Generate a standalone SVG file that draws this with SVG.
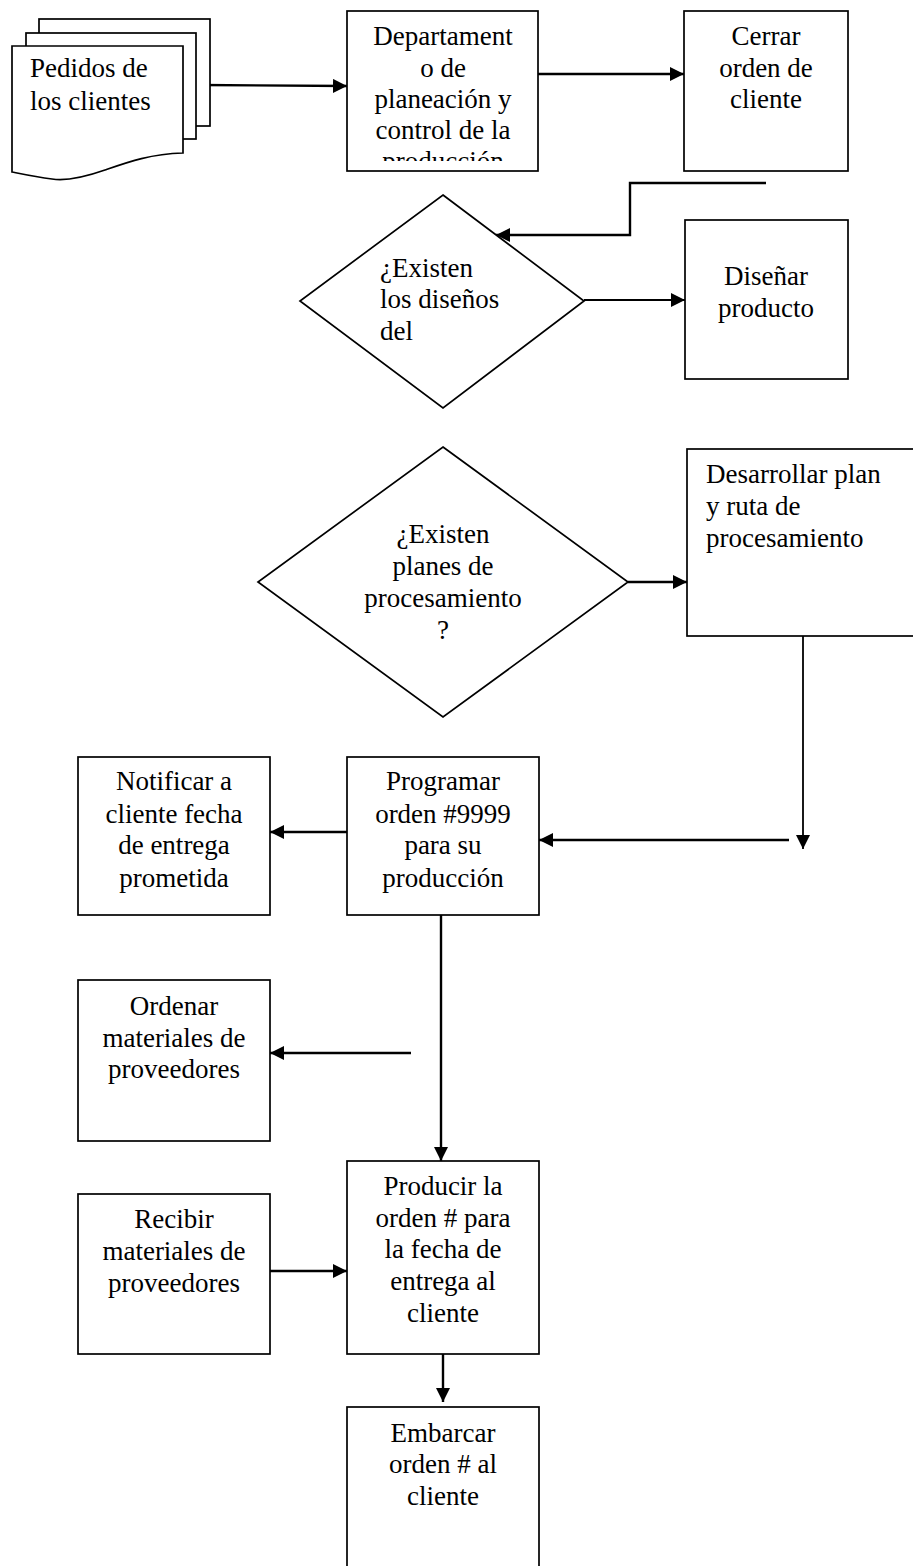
<svg xmlns="http://www.w3.org/2000/svg" width="913" height="1566" viewBox="0 0 913 1566">
  <style>
    .shape { fill: #fff; stroke: #000; stroke-width: 1.7; }
    .conn { fill: none; stroke: #000; stroke-width: 2.4; }
    .thin { stroke-width: 1.8; }
    .lbl { font-family: "Liberation Serif", "Times New Roman", serif; font-size: 27px; fill: #000; }
    .mid { text-anchor: middle; }
  </style>
  <defs>
    <marker id="arrow" viewBox="0 0 10 10" refX="10" refY="5" markerWidth="14" markerHeight="14" markerUnits="userSpaceOnUse" orient="auto">
      <path d="M0,0 L10,5 L0,10 z" fill="#000"/>
    </marker>
    <clipPath id="deptClip">
      <rect x="348" y="12" width="189" height="149"/>
    </clipPath>
  </defs>

  <rect width="913" height="1566" fill="#fff"/>

  <!-- connectors -->
  <g id="connectors">
    <line class="conn" x1="200" y1="85" x2="347" y2="86" marker-end="url(#arrow)"/>
    <line class="conn" x1="538" y1="74" x2="684" y2="74" marker-end="url(#arrow)"/>
    <polyline class="conn" points="766,183 630,183 630,235 496,235" marker-end="url(#arrow)"/>
    <line class="conn thin" x1="584" y1="300" x2="685" y2="300" marker-end="url(#arrow)"/>
    <line class="conn" x1="628" y1="582" x2="687" y2="582" marker-end="url(#arrow)"/>
    <line class="conn thin" x1="803" y1="636" x2="803" y2="849" marker-end="url(#arrow)"/>
    <line class="conn" x1="789" y1="840" x2="539" y2="840" marker-end="url(#arrow)"/>
    <line class="conn" x1="347" y1="832" x2="270" y2="832" marker-end="url(#arrow)"/>
    <line class="conn" x1="441" y1="915" x2="441" y2="1161" marker-end="url(#arrow)"/>
    <line class="conn" x1="411" y1="1053" x2="270" y2="1053" marker-end="url(#arrow)"/>
    <line class="conn" x1="268" y1="1271" x2="347" y2="1271" marker-end="url(#arrow)"/>
    <line class="conn" x1="443" y1="1354" x2="443" y2="1402" marker-end="url(#arrow)"/>
  </g>

  <!-- stacked documents -->
  <g id="pedidos">
    <rect class="shape" x="39" y="19" width="171" height="107"/>
    <rect class="shape" x="26" y="33" width="170" height="106"/>
    <path class="shape" d="M12,46 L183,46 L183,153 C150,154 128,162 105,170 C85,177 65,181 52,179 C36,177 22,174 12,172 Z"/>
    <text class="lbl" x="30" y="77">Pedidos de</text>
    <text class="lbl" x="30" y="110">los clientes</text>
  </g>

  <g id="departamento">
    <rect class="shape" x="347" y="11" width="191" height="160"/>
    <g clip-path="url(#deptClip)">
      <text class="lbl mid" x="443" y="45">Departament</text>
      <text class="lbl mid" x="443" y="77">o de</text>
      <text class="lbl mid" x="443" y="108">planeación y</text>
      <text class="lbl mid" x="443" y="139">control de la</text>
      <text class="lbl mid" x="443" y="170">producción</text>
    </g>
  </g>

  <g id="cerrar">
    <rect class="shape" x="684" y="11" width="164" height="160"/>
    <text class="lbl mid" x="766" y="45">Cerrar</text>
    <text class="lbl mid" x="766" y="77">orden de</text>
    <text class="lbl mid" x="766" y="108">cliente</text>
  </g>

  <g id="existen-disenos">
    <polygon class="shape" points="443,195 584,301 443,408 300,301"/>
    <text class="lbl" x="380" y="277">¿Existen</text>
    <text class="lbl" x="380" y="308">los diseños</text>
    <text class="lbl" x="380" y="340">del</text>
  </g>

  <g id="disenar">
    <rect class="shape" x="685" y="220" width="163" height="159"/>
    <text class="lbl mid" x="766" y="285">Diseñar</text>
    <text class="lbl mid" x="766" y="317">producto</text>
  </g>

  <g id="existen-planes">
    <polygon class="shape" points="443,447 628,582 443,717 258,582"/>
    <text class="lbl mid" x="443" y="543">¿Existen</text>
    <text class="lbl mid" x="443" y="575">planes de</text>
    <text class="lbl mid" x="443" y="607">procesamiento</text>
    <text class="lbl mid" x="443" y="639">?</text>
  </g>

  <g id="desarrollar">
    <rect class="shape" x="687" y="449" width="240" height="187"/>
    <text class="lbl" x="706" y="483">Desarrollar plan</text>
    <text class="lbl" x="706" y="515">y ruta de</text>
    <text class="lbl" x="706" y="547">procesamiento</text>
  </g>

  <g id="programar">
    <rect class="shape" x="347" y="757" width="192" height="158"/>
    <text class="lbl mid" x="443" y="790">Programar</text>
    <text class="lbl mid" x="443" y="823">orden #9999</text>
    <text class="lbl mid" x="443" y="854">para su</text>
    <text class="lbl mid" x="443" y="887">producción</text>
  </g>

  <g id="notificar">
    <rect class="shape" x="78" y="757" width="192" height="158"/>
    <text class="lbl mid" x="174" y="790">Notificar a</text>
    <text class="lbl mid" x="174" y="823">cliente fecha</text>
    <text class="lbl mid" x="174" y="854">de entrega</text>
    <text class="lbl mid" x="174" y="887">prometida</text>
  </g>

  <g id="ordenar">
    <rect class="shape" x="78" y="980" width="192" height="161"/>
    <text class="lbl mid" x="174" y="1015">Ordenar</text>
    <text class="lbl mid" x="174" y="1047">materiales de</text>
    <text class="lbl mid" x="174" y="1078">proveedores</text>
  </g>

  <g id="recibir">
    <rect class="shape" x="78" y="1194" width="192" height="160"/>
    <text class="lbl mid" x="174" y="1228">Recibir</text>
    <text class="lbl mid" x="174" y="1260">materiales de</text>
    <text class="lbl mid" x="174" y="1292">proveedores</text>
  </g>

  <g id="producir">
    <rect class="shape" x="347" y="1161" width="192" height="193"/>
    <text class="lbl mid" x="443" y="1195">Producir la</text>
    <text class="lbl mid" x="443" y="1227">orden # para</text>
    <text class="lbl mid" x="443" y="1258">la fecha de</text>
    <text class="lbl mid" x="443" y="1290">entrega al</text>
    <text class="lbl mid" x="443" y="1322">cliente</text>
  </g>

  <g id="embarcar">
    <rect class="shape" x="347" y="1407" width="192" height="170"/>
    <text class="lbl mid" x="443" y="1442">Embarcar</text>
    <text class="lbl mid" x="443" y="1473">orden # al</text>
    <text class="lbl mid" x="443" y="1505">cliente</text>
  </g>
</svg>
